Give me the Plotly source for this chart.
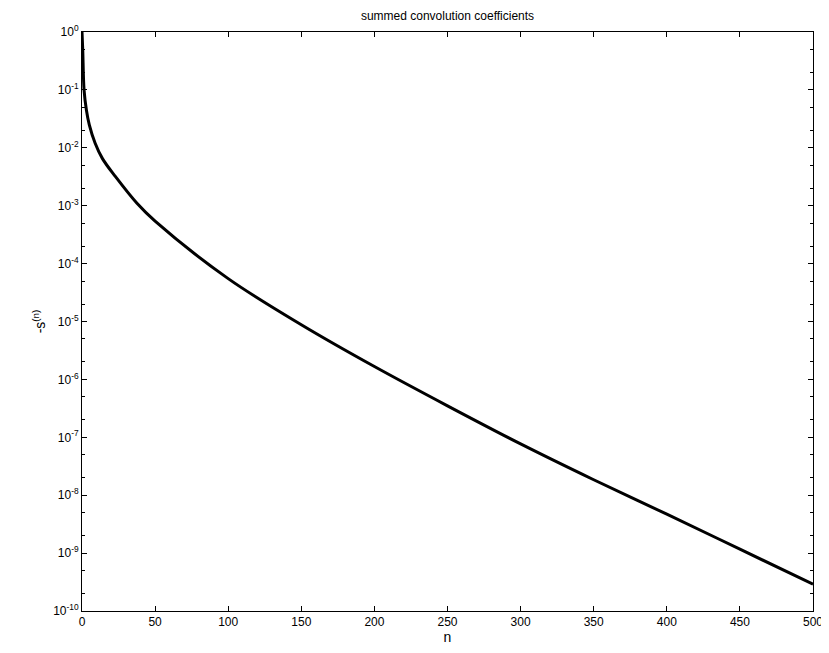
import plotly.graph_objects as go

n_vals = [0, 0.5, 1.4, 3, 5, 9, 14, 22.8, 37.6, 50, 100, 150, 200, 250, 300, 350, 400, 450, 500]
s_vals = [1.0, 0.5, 0.1, 0.045, 0.025, 0.012, 6.5e-3, 3.2e-3, 1.1e-3, 5.4e-4, 5.5e-5,
          8.8e-6, 1.67e-6, 3.5e-7, 7.7e-8, 1.85e-8, 4.7e-9, 1.17e-9, 2.9e-10]
x_ticks = [0, 50, 100, 150, 200, 250, 300, 350, 400, 450, 500]
y_exps = list(range(-10, 1))

fig = go.Figure(go.Scatter(x=n_vals, y=s_vals, mode="lines", line=dict(color="black", width=3, shape="spline", smoothing=1.0)))
ax = dict(showline=True, linecolor="black", linewidth=1, mirror="ticks", ticks="inside", ticklen=5,
          tickcolor="black", showgrid=False, zeroline=False, automargin=False, tickfont=dict(size=12, color="black"))
fig.update_layout(
    width=821, height=645, plot_bgcolor="white", paper_bgcolor="white",
    margin=dict(l=74, r=16, t=24, b=42),
    font=dict(family="Liberation Sans, Arial", size=12, color="black"),
    title=dict(text="summed convolution coefficients", x=(74 + (821 - 16 - 74) / 2) / 821, xanchor="center", y=0.995, yanchor="top", font=dict(size=12)),
    showlegend=False,
)
fig.update_xaxes(range=[0, 500], tickvals=x_ticks, title=dict(text="n", standoff=2), **ax)
fig.update_yaxes(type="log", range=[-10, 0], tickvals=[10**e for e in y_exps],
                 ticktext=[f"10<sup>{e}</sup>" for e in y_exps],
                 minor=dict(ticks="inside", ticklen=3, tickcolor="black", showgrid=False),
                 title=dict(text="-s<sup>(n)</sup>", standoff=4), **ax)
fig.write_html("out.html")
